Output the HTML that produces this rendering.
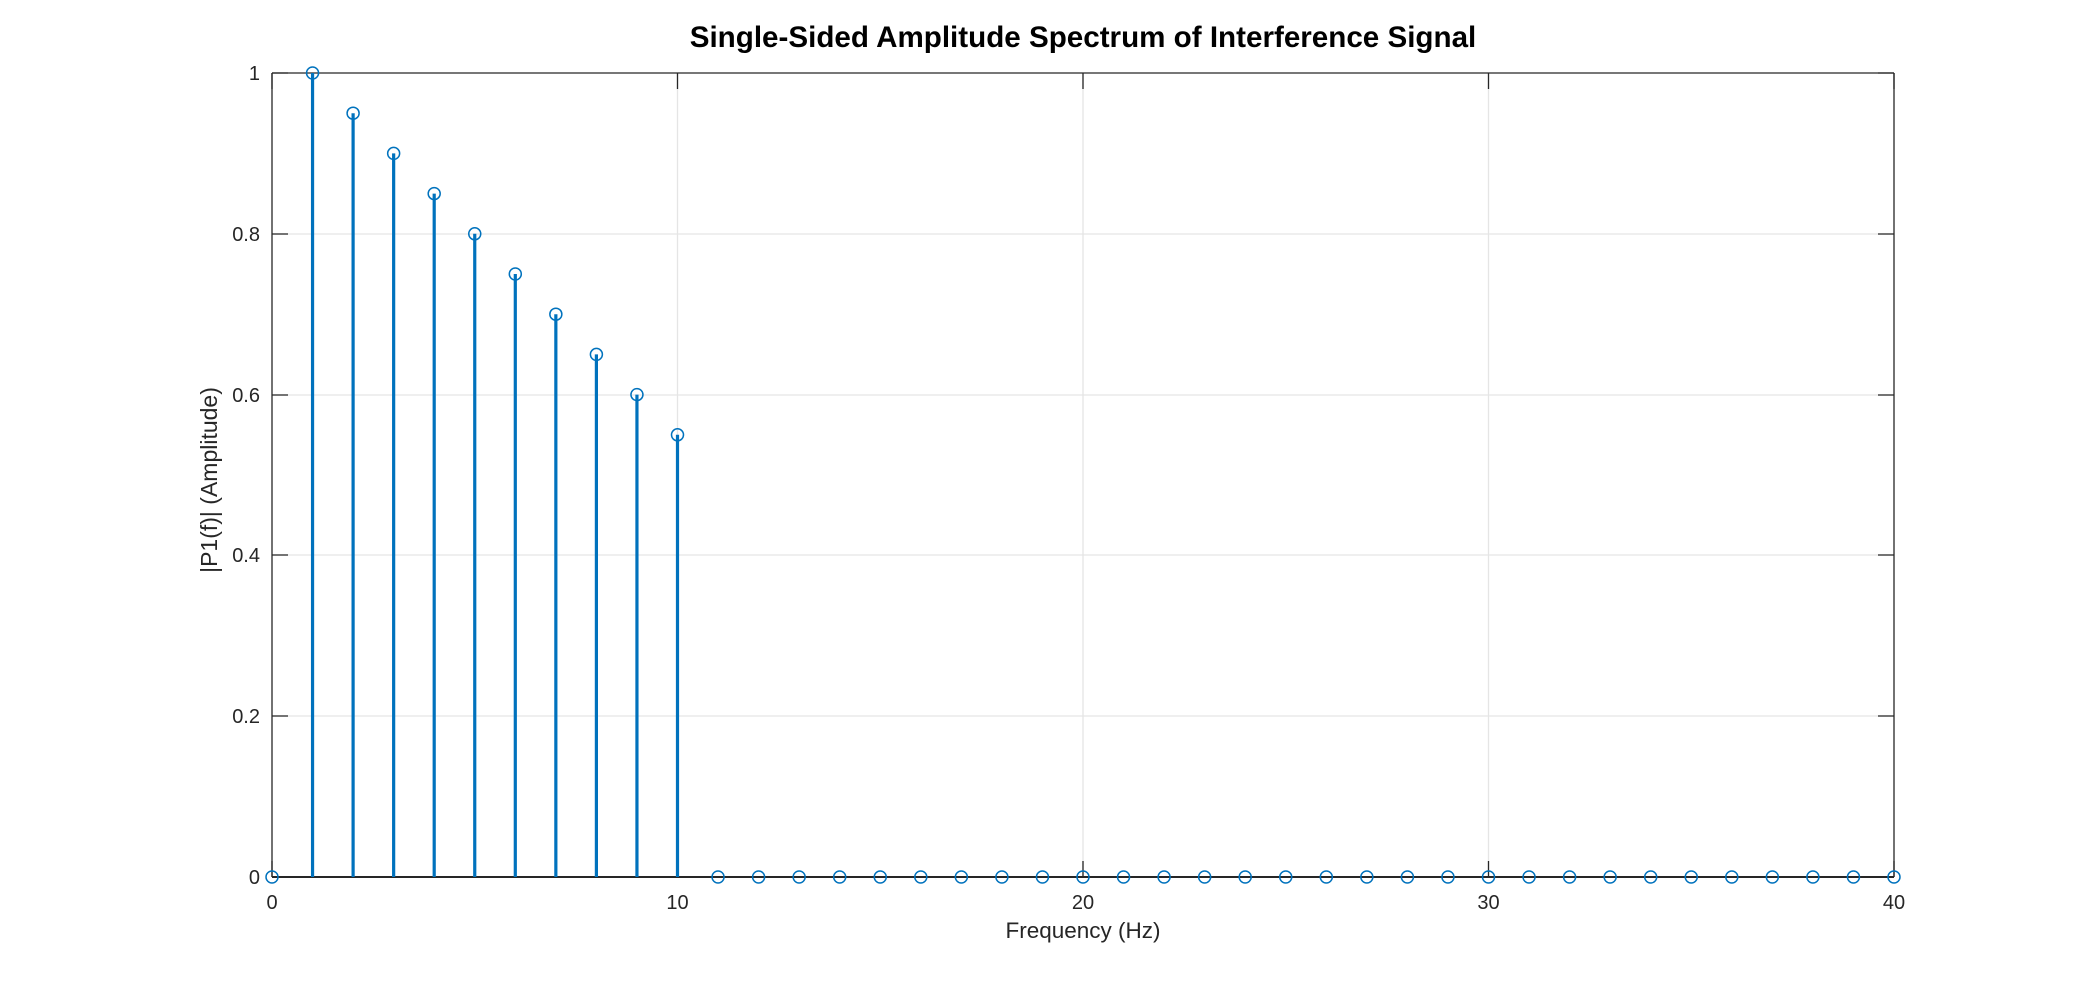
<!DOCTYPE html>
<html><head><meta charset="utf-8"><style>
html,body{margin:0;padding:0;background:#fff;}
svg{display:block;font-family:"Liberation Sans",sans-serif;}
</style></head><body>
<svg width="2092" height="985" viewBox="0 0 2092 985" xmlns="http://www.w3.org/2000/svg">
<rect width="2092" height="985" fill="#fff"/>
<g stroke="#e5e5e5" stroke-width="1.3">
<line x1="677.5" y1="73" x2="677.5" y2="877"/>
<line x1="1083" y1="73" x2="1083" y2="877"/>
<line x1="1488.5" y1="73" x2="1488.5" y2="877"/>
<line x1="272" y1="234" x2="1894" y2="234"/>
<line x1="272" y1="395" x2="1894" y2="395"/>
<line x1="272" y1="555" x2="1894" y2="555"/>
<line x1="272" y1="716" x2="1894" y2="716"/>
</g>
<g stroke="#262626" stroke-width="1.3">
<line x1="272" y1="877" x2="1894" y2="877" stroke-width="2"/>
<line x1="272" y1="73" x2="1894" y2="73"/>
<line x1="272" y1="73" x2="272" y2="877"/>
<line x1="1894" y1="73" x2="1894" y2="877"/>
<path d="M677.5 877v-16M1083 877v-16M1488.5 877v-16M677.5 73v16M1083 73v16M1488.5 73v16M272 73v16M1894 73v16M272 877v-16M1894 877v-16"/>
<path d="M272 73h16M272 234h16M272 395h16M272 555h16M272 716h16M272 877h16M1894 73h-16M1894 234h-16M1894 395h-16M1894 555h-16M1894 716h-16M1894 877h-16"/>
</g>
<g stroke="#0072BD" stroke-width="3.2" id="stems"></g>
<g fill="none" stroke="#0072BD" stroke-width="1.5" id="marks"></g>
<g fill="#262626" font-size="20" text-anchor="end">
<text x="260" y="80">1</text>
<text x="260" y="241">0.8</text>
<text x="260" y="402">0.6</text>
<text x="260" y="562">0.4</text>
<text x="260" y="723">0.2</text>
<text x="260" y="884">0</text>
</g>
<g fill="#262626" font-size="20" text-anchor="middle">
<text x="272" y="909">0</text>
<text x="677.5" y="909">10</text>
<text x="1083" y="909">20</text>
<text x="1488.5" y="909">30</text>
<text x="1894" y="909">40</text>
<text x="1083" y="938" font-size="22.5">Frequency (Hz)</text>
<text transform="translate(217,480) rotate(-90)" font-size="23">|P1(f)| (Amplitude)</text>
<text x="1083" y="47" font-size="29.6" font-weight="bold" fill="#000">Single-Sided Amplitude Spectrum of Interference Signal</text>
</g>
<script>
var s=document.getElementById('stems'),m=document.getElementById('marks'),ns='http://www.w3.org/2000/svg';
for(var i=0;i<=40;i++){var v=(i>=1&&i<=10)?1-0.05*(i-1):0;var x=272+i*40.55,y=877-v*804;
if(v>0){var l=document.createElementNS(ns,'line');l.setAttribute('x1',x);l.setAttribute('x2',x);l.setAttribute('y1',877);l.setAttribute('y2',y);s.appendChild(l);}
var c=document.createElementNS(ns,'circle');c.setAttribute('cx',x);c.setAttribute('cy',y);c.setAttribute('r',6);m.appendChild(c);}
</script>
</svg>
</body></html>
